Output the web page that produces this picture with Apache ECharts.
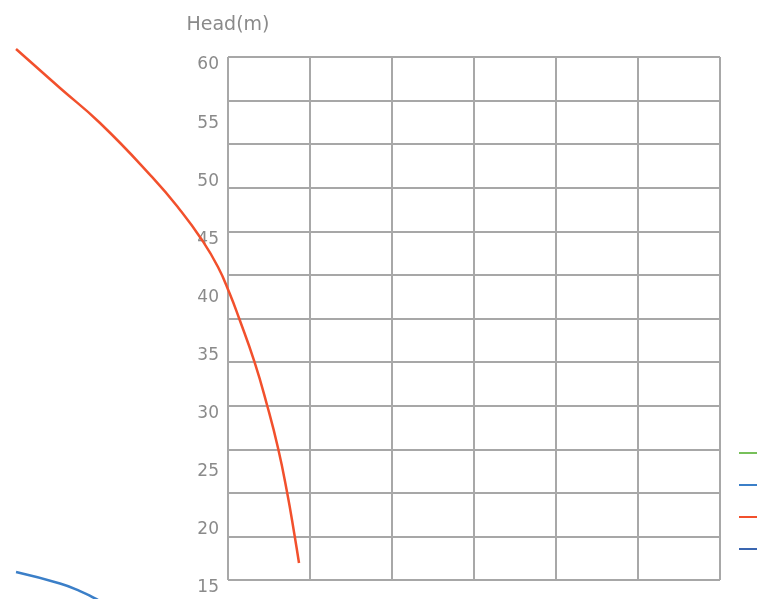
<!DOCTYPE html>
<html>
<head>
<meta charset="utf-8">
<script src="https://cdn.jsdelivr.net/npm/echarts@6/dist/echarts.min.js"></script>
<style>html,body{margin:0;padding:0;background:#fff;}#c{width:757px;height:599px;}</style>
</head>
<body>
<div id="c"></div>
<script>
// Data
var seriesNames = ['P(kW)', 'η(%)', 'H(m)', 'NPSH(m)'];
var seriesColors = ['#77c05a', '#3b7fc8', '#f2502c', '#3a66b0'];
var yTicks = [15, 20, 25, 30, 35, 40, 45, 50, 55, 60];
var xRange = [0, 6];
var greenData = [];
var blueData = [[-2.585, 15.69], [-2.049, 14.70], [-1.805, 14.05], [-1.622, 13.41], [-1.378, 12.50]];
var redData = [
  [-2.585, 60.69], [-2.049, 57.33], [-1.561, 54.32], [-0.927, 49.68], [-0.585, 46.84],
  [-0.317, 44.25], [-0.122, 41.93], [0.018, 39.69], [0.134, 37.54], [0.323, 33.76],
  [0.476, 30.06], [0.610, 26.36], [0.720, 22.57], [0.811, 18.87], [0.866, 16.46]
];
var darkBlueData = [];

// Layout
var W = 757, H = 599;
var G = {left: 228, right: 37, top: 57, bottom: 19};
var yMin = yTicks[0], yMax = yTicks[yTicks.length - 1];
var gw = W - G.left - G.right, gh = H - G.top - G.bottom;
var xPerPx = (xRange[1] - xRange[0]) / gw, yPerPx = (yMax - yMin) / gh;
// Data grid covers the whole canvas with the same scale as the drawn frame
var dx0 = xRange[0] - G.left * xPerPx;
var dx1 = xRange[1] + G.right * xPerPx;
var dy1 = yMax + G.top * yPerPx;
var dy0 = yMin - G.bottom * yPerPx;

var chart = echarts.init(document.getElementById('c'), null, {renderer: 'canvas'});
var font = 'DejaVu Sans';
function lineSeries(i, data) {
  return {
    name: seriesNames[i], type: 'line', data: data, smooth: true, symbol: 'none',
    clip: false, xAxisIndex: 2, yAxisIndex: 2,
    itemStyle: {color: seriesColors[i]},
    lineStyle: {color: seriesColors[i], width: 2.5}
  };
}
var hidden = {axisLine: {show: false}, axisTick: {show: false}, axisLabel: {show: false}, splitLine: {show: false}};
chart.setOption({
  animation: false,
  backgroundColor: '#ffffff',
  grid: [
    {left: G.left, right: G.right, top: G.top, bottom: G.bottom},
    {left: G.left, right: G.right, top: G.top + 8, bottom: G.bottom - 8},
    {left: 0, top: 0, right: 0, bottom: 0}
  ],
  legend: {
    orient: 'vertical', left: 734, top: 447, itemGap: 30, itemWidth: 25, itemHeight: 2,
    icon: 'rect',
    data: seriesNames,
    textStyle: {color: '#888', fontFamily: font, fontSize: 2, lineHeight: 2}
  },
  xAxis: [
    Object.assign({}, hidden, {gridIndex: 0, type: 'value', min: xRange[0], max: xRange[1], interval: 1,
      splitLine: {show: true, lineStyle: {color: '#a8a8a8', width: 2}}}),
    Object.assign({}, hidden, {gridIndex: 1, type: 'value', min: 0, max: 1}),
    Object.assign({}, hidden, {gridIndex: 2, type: 'value', min: dx0, max: dx1})
  ],
  yAxis: [
    Object.assign({}, hidden, {gridIndex: 0, type: 'value', min: 0, max: 12, interval: 1,
      splitLine: {show: true, lineStyle: {color: '#8a8a8a', width: 1.5}}}),
    {
      gridIndex: 1, type: 'value', min: yMin, max: yMax, interval: 5,
      name: 'Head(m)', nameLocation: 'end', nameGap: 30,
      nameTextStyle: {color: '#8a8a8a', fontFamily: font, fontSize: 19, align: 'center'},
      axisLine: {show: false}, axisTick: {show: false},
      axisLabel: {color: '#8a8a8a', fontFamily: font, fontSize: 17, margin: 9},
      splitLine: {show: false}
    },
    Object.assign({}, hidden, {gridIndex: 2, type: 'value', min: dy0, max: dy1})
  ],
  series: [
    lineSeries(0, greenData),
    lineSeries(1, blueData),
    lineSeries(2, redData),
    lineSeries(3, darkBlueData)
  ]
});
</script>
</body>
</html>
